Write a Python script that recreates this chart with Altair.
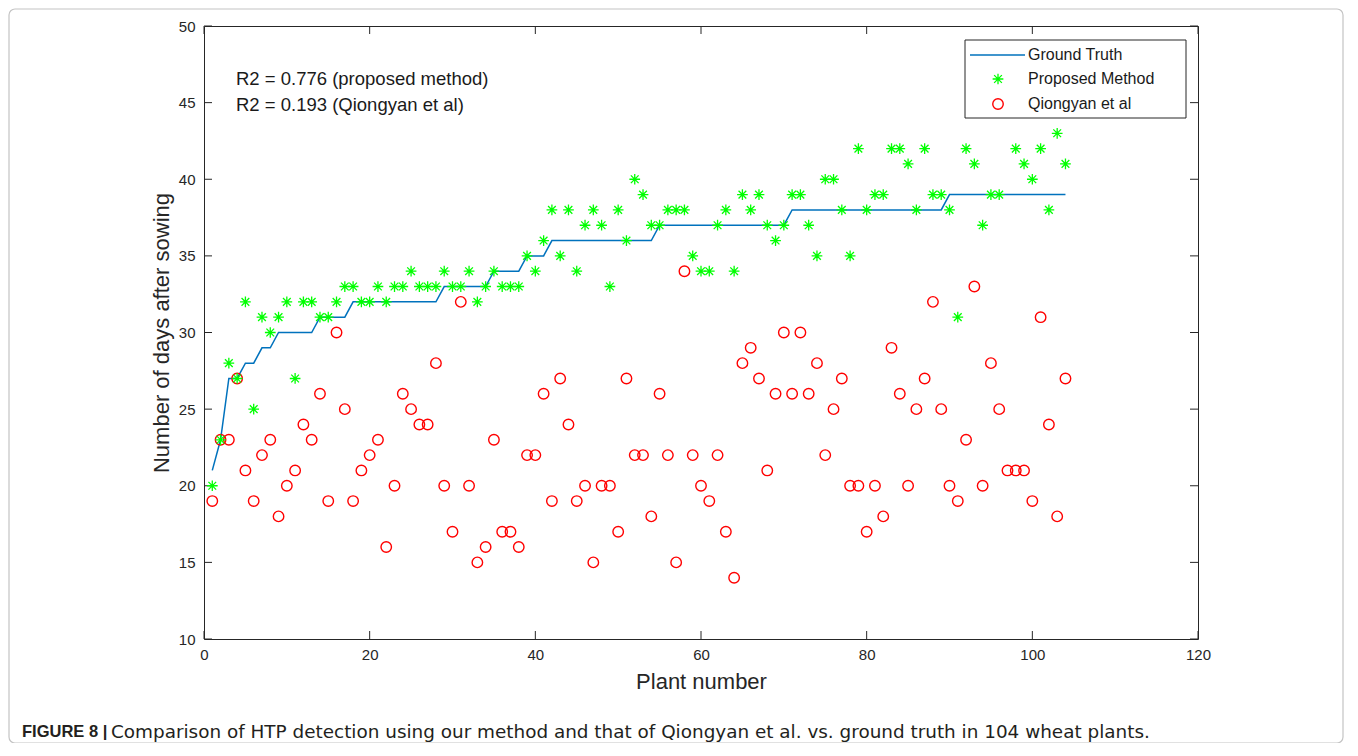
import altair as alt
import pandas as pd

# ---------------- data ----------------
plant = list(range(1, 105))
ground_truth = [21, 23, 27, 27, 28, 28, 29, 29, 30, 30, 30, 30, 30, 31, 31, 31, 31,
                32, 32, 32, 32, 32, 32, 32, 32, 32, 32, 32,
                33, 33, 33, 33, 33, 33,
                34, 34, 34, 34,
                35, 35, 35,
                36, 36, 36, 36, 36, 36, 36, 36, 36, 36, 36, 36, 36,
                37, 37, 37, 37, 37, 37, 37, 37, 37, 37, 37, 37, 37, 37, 37, 37,
                38, 38, 38, 38, 38, 38, 38, 38, 38, 38, 38, 38, 38, 38, 38, 38, 38, 38, 38,
                39, 39, 39, 39, 39, 39, 39, 39, 39, 39, 39, 39, 39, 39, 39]
proposed = [20, 23, 28, 27, 32, 25, 31, 30, 31, 32, 27, 32, 32, 31, 31, 32, 33, 33, 32, 32,
            33, 32, 33, 33, 34, 33, 33, 33, 34, 33, 33, 34, 32, 33, 34, 33, 33, 33, 35, 34,
            36, 38, 35, 38, 34, 37, 38, 37, 33, 38, 36, 40, 39, 37, 37, 38, 38, 38, 35, 34,
            34, 37, 38, 34, 39, 38, 39, 37, 36, 37, 39, 39, 37, 35, 40, 40, 38, 35, 42, 38,
            39, 39, 42, 42, 41, 38, 42, 39, 39, 38, 31, 42, 41, 37, 39, 39, None, 42, 41, 40,
            42, 38, 43, 41]
qiongyan = [19, 23, 23, 27, 21, 19, 22, 23, 18, 20, 21, 24, 23, 26, 19, 30, 25, 19, 21, 22,
            23, 16, 20, 26, 25, 24, 24, 28, 20, 17, 32, 20, 15, 16, 23, 17, 17, 16, 22, 22,
            26, 19, 27, 24, 19, 20, 15, 20, 20, 17, 27, 22, 22, 18, 26, 22, 15, 34, 22, 20,
            19, 22, 17, 14, 28, 29, 27, 21, 26, 30, 26, 30, 26, 28, 22, 25, 27, 20, 20, 17,
            20, 18, 29, 26, 20, 25, 27, 32, 25, 20, 19, 23, 33, 20, 28, 25, 21, 21, 21, 19,
            31, 24, 18, 27]
x_ticks = [0, 20, 40, 60, 80, 100, 120]
y_ticks = [10, 15, 20, 25, 30, 35, 40, 45, 50]
series_names = ["Ground Truth", "Proposed Method", "Qiongyan et al"]
r2_lines = ["R2 = 0.776 (proposed method)", "R2 = 0.193 (Qiongyan et al)"]
caption_bold = "FIGURE 8 |"
caption_text = ("Comparison of HTP detection using our method and that of Qiongyan et al. "
                "vs. ground truth in 104 wheat plants.")

# ---------------- styling ----------------
W, H = 994, 613
FONT = "Liberation Sans"
AX = "#262626"
BLUE = "#0072BD"
GREEN = "#00ff00"
RED = "#ff0000"
ASTER = "M-1,0L1,0M0,-1L0,1M-0.72,-0.72L0.72,0.72M-0.72,0.72L0.72,-0.72"

xs = alt.Scale(domain=[0, 120], nice=False, zero=False)
ys = alt.Scale(domain=[10, 50], nice=False, zero=False)
XT = "Plant number"
YT = "Number of days after sowing"

gt_df = pd.DataFrame({"x": plant, "y": ground_truth})
pm_df = pd.DataFrame({"x": plant, "y": proposed}).dropna()
qy_df = pd.DataFrame({"x": plant, "y": qiongyan})
xt_df = pd.DataFrame({"x": x_ticks})
yt_df = pd.DataFrame({"y": y_ticks})
one = pd.DataFrame({"a": [0]})

x_axis = alt.Axis(values=x_ticks, ticks=False, domain=False, grid=False, labelFontSize=15,
                  labelPadding=8, labelFlush=False, titleFontSize=22,
                  titleFontWeight="normal", titlePadding=9,
                  labelFont=FONT, titleFont=FONT, labelColor=AX, titleColor=AX)
y_axis = alt.Axis(values=y_ticks, ticks=False, domain=False, grid=False, labelFontSize=15,
                  labelPadding=9, labelFlush=False, titleFontSize=22,
                  titleFontWeight="normal", titlePadding=5,
                  labelFont=FONT, titleFont=FONT, labelColor=AX, titleColor=AX)


def X(field="x"):
    return alt.X(f"{field}:Q", scale=xs, axis=x_axis, title=XT)


def Y(field="y"):
    return alt.Y(f"{field}:Q", scale=ys, axis=y_axis, title=YT)


border = alt.Chart(one).mark_rect(fill="white", fillOpacity=0, stroke="#c4c4c4",
                                  strokeWidth=1.2, cornerRadius=6).encode(
    x=alt.value(-195), x2=alt.value(W + 145), y=alt.value(-17), y2=alt.value(717))

gt_line = alt.Chart(gt_df).mark_line(color=BLUE, strokeWidth=1.5).encode(x=X(), y=Y())

pm_pts = alt.Chart(pm_df).mark_point(shape=ASTER, filled=False, stroke=GREEN,
                                     strokeWidth=1.3, size=115, opacity=1).encode(x=X(), y=Y())

qy_pts = alt.Chart(qy_df).mark_point(shape="circle", filled=False, stroke=RED,
                                     strokeWidth=1.4, size=110, opacity=1).encode(x=X(), y=Y())

tick_style = dict(color=AX, strokeWidth=1)
ticks = [
    alt.Chart(xt_df).mark_rule(**tick_style).encode(x=X(), y=alt.value(H - 8), y2=alt.value(H)),
    alt.Chart(xt_df).mark_rule(**tick_style).encode(x=X(), y=alt.value(0), y2=alt.value(8)),
    alt.Chart(yt_df).mark_rule(**tick_style).encode(y=Y(), x=alt.value(0), x2=alt.value(8)),
    alt.Chart(yt_df).mark_rule(**tick_style).encode(y=Y(), x=alt.value(W - 8), x2=alt.value(W)),
]

r2_text = [
    alt.Chart(one).mark_text(align="left", baseline="middle", font=FONT, fontSize=18.5,
                             color="#1a1a1a").encode(
        x=alt.value(32), y=alt.value(53 + 26 * i), text=alt.value(t))
    for i, t in enumerate(r2_lines)
]

# legend (MATLAB-style box)
LX0, LX1, LY0, LY1 = 761, 982, 14, 92
leg_box = alt.Chart(one).mark_rect(fill="white", stroke=AX, strokeWidth=1).encode(
    x=alt.value(LX0), x2=alt.value(LX1), y=alt.value(LY0), y2=alt.value(LY1))
leg_line = alt.Chart(one).mark_rule(color=BLUE, strokeWidth=1.5).encode(
    x=alt.value(766), x2=alt.value(821), y=alt.value(29))
leg_star = alt.Chart(one).mark_point(shape=ASTER, filled=False, stroke=GREEN,
                                     strokeWidth=1.3, size=115, opacity=1).encode(
    x=alt.value(794), y=alt.value(53))
leg_circ = alt.Chart(one).mark_point(shape="circle", filled=False, stroke=RED,
                                     strokeWidth=1.4, size=110, opacity=1).encode(
    x=alt.value(794), y=alt.value(78))
leg_text = [
    alt.Chart(one).mark_text(align="left", baseline="middle", font=FONT, fontSize=16,
                             color="#1a1a1a").encode(
        x=alt.value(824), y=alt.value(yy), text=alt.value(t))
    for yy, t in zip([29, 53, 78], series_names)
]

cap_b = alt.Chart(one).mark_text(align="left", baseline="middle", font=FONT, fontSize=16.5,
                                 fontWeight="bold", color="#231f20").encode(
    x=alt.value(-182), y=alt.value(706), text=alt.value(caption_bold))
cap_t = alt.Chart(one).mark_text(align="left", baseline="middle", font="DejaVu Sans",
                                 fontSize=18.4, color="#231f20").encode(
    x=alt.value(-93), y=alt.value(706), text=alt.value(caption_text))

chart = alt.layer(
    border, gt_line, *ticks, qy_pts, pm_pts, *r2_text,
    leg_box, leg_line, leg_star, leg_circ, *leg_text, cap_b, cap_t
).properties(
    width=W, height=H,
    autosize=alt.AutoSizeParams(type="none"),
    padding={"left": 196, "top": 18, "right": 152, "bottom": 104},
    background="white",
).configure_view(stroke=AX, strokeWidth=1)

chart.save("out.html", embed_options={"renderer": "svg", "actions": False})
